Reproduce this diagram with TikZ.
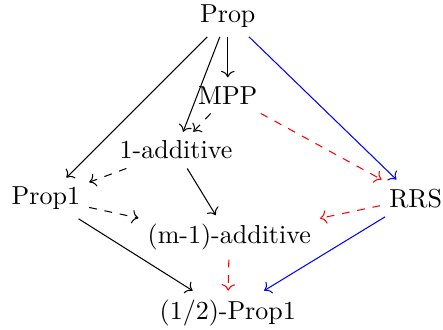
\documentclass[tikz,border=0pt]{standalone}
\usepackage{tikz}
\usetikzlibrary{arrows.meta, positioning}

\begin{document}
\begin{tikzpicture}[
  prop/.style={font=\normalsize},
  imp/.style={->},
  weak/.style={->, dashed},
  open/.style={->, dashed, red},
  rrsimp/.style={->, blue}
]
\useasboundingbox (0,0) rectangle (5.99,4.45);
\node[prop] (top) at (3.08,4.23) {Prop};
\node[prop] (mpp) at (3.08,3.16) {MPP};
\node[prop] (add1) at (2.38,2.42) {1-additive};
\node[prop] (prop1) at (0.62,1.77) {Prop1};
\node[prop] (rrs) at (5.62,1.77) {RRS};
\node[prop] (addm) at (3.10,1.24) {(m-1)-additive};
\node[prop] (half) at (3.08,0.22) {(1/2)-Prop1};

\draw[imp] (top) -- (mpp);
\draw[imp] (top) -- (add1);
\draw[imp] (top) -- (prop1);
\draw[rrsimp] (top) -- (rrs);
\draw[weak] (mpp) -- (add1);
\draw[open] (mpp) -- (rrs);
\draw[weak] (add1) -- (prop1);
\draw[imp] (add1) -- (addm);
\draw[weak] (prop1) -- (addm);
\draw[imp] (prop1) -- (half);
\draw[open] (rrs) -- (addm);
\draw[rrsimp] (rrs) -- (half);
\draw[open] (addm) -- (half);
\end{tikzpicture}
\end{document}
